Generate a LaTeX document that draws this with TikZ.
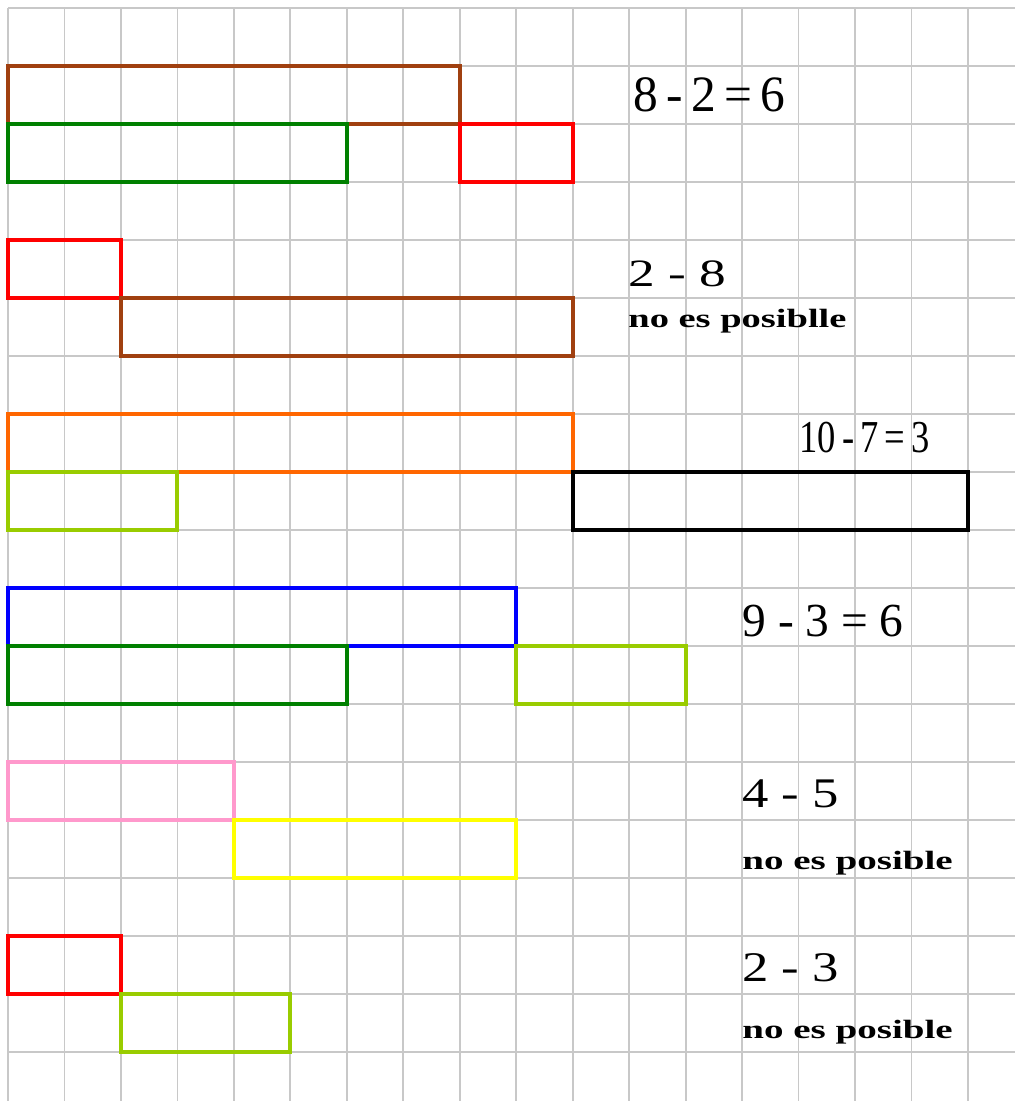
\documentclass[tikz,border=0pt]{standalone}
\usepackage{fontspec}
\setmainfont{Liberation Serif}

\definecolor{marron}{RGB}{160,64,16}
\definecolor{verde}{RGB}{0,128,0}
\definecolor{rojo}{RGB}{255,0,0}
\definecolor{naranja}{RGB}{255,102,0}
\definecolor{verdeclaro}{RGB}{153,204,0}
\definecolor{azul}{RGB}{0,0,255}
\definecolor{rosa}{RGB}{255,153,204}
\definecolor{amarillo}{RGB}{255,255,0}
\definecolor{cuadricula}{RGB}{200,200,200}

\begin{document}
\begin{tikzpicture}[x=1.1294cm, y=-1.16cm, line join=miter,
		regleta/.style={line width=2.2pt},
		resta/.style={anchor=base west, inner sep=0pt, font=\fontsize{29}{32}\selectfont},
		aviso/.style={anchor=base west, inner sep=0pt, font=\fontsize{15}{18}\selectfont\bfseries}]
			
			\useasboundingbox (-0.1417,-0.138) rectangle (17.83,18.845);
			
			% Cuadrícula
			\foreach \i in {0,...,17}
			\draw[cuadricula, line width=1pt] (\i,0) -- (\i,18.845);
			\foreach \j in {0,...,18}
			\draw[cuadricula, line width=1pt] (0,\j) -- (17.83,\j);
			
			% 8 - 2 = 6
			\draw[regleta, marron] (0,1) rectangle (8,2);
			\draw[regleta, verde] (0,2) rectangle (6,3);
			\draw[regleta, rojo] (8,2) rectangle (10,3);
			
			% 2 - 8
			\draw[regleta, rojo] (0,4) rectangle (2,5);
			\draw[regleta, marron] (2,5) rectangle (10,6);
			
			% 10 - 7 = 3
			\draw[regleta, naranja] (0,7) rectangle (10,8);
			\draw[regleta, verdeclaro] (0,8) rectangle (3,9);
			\draw[regleta, black] (10,8) rectangle (17,9);
			
			% 9 - 3 = 6
			\draw[regleta, azul] (0,10) rectangle (9,11);
			\draw[regleta, verde] (0,11) rectangle (6,12);
			\draw[regleta, verdeclaro] (9,11) rectangle (12,12);
			
			% 4 - 5
			\draw[regleta, rosa] (0,13) rectangle (4,14);
			\draw[regleta, amarillo] (4,14) rectangle (9,15);
			
			% 2 - 3
			\draw[regleta, rojo] (0,16) rectangle (2,17);
			\draw[regleta, verdeclaro] (2,17) rectangle (5,18);
			
			% Textos
			\node[resta] (r1) at (11.07,1.79) {\scalebox{0.97}[1]{8\,-\,2\,=\,6}};
			\node[resta, font=\fontsize{22}{24}\selectfont] (r2) at (10.98,4.81) {\scalebox{1.38}[1]{2 - 8}};
			\node[aviso] (a2) at (10.98,5.5) {\scalebox{1.46}[1]{no es posiblle}};
			\node[resta, font=\fontsize{26}{28}\selectfont] (r3) at (14.01,7.67) {\scalebox{0.8}[1]{10\,-\,7\,=\,3}};
			\node[resta, font=\fontsize{27}{30}\selectfont] (r4) at (13.0,10.84) {9 - 3 = 6};
			\node[resta, font=\fontsize{24}{26}\selectfont] (r5) at (13.0,13.78) {\scalebox{1.25}[1]{4 - 5}};
			\node[aviso] (a5) at (13.0,14.86) {\scalebox{1.48}[1]{no es posible}};
			\node[resta, font=\fontsize{24}{26}\selectfont] (r6) at (13.0,16.79) {\scalebox{1.25}[1]{2 - 3}};
			\node[aviso] (a6) at (13.0,17.76) {\scalebox{1.48}[1]{no es posible}};
			
		\end{tikzpicture}
\end{document}
